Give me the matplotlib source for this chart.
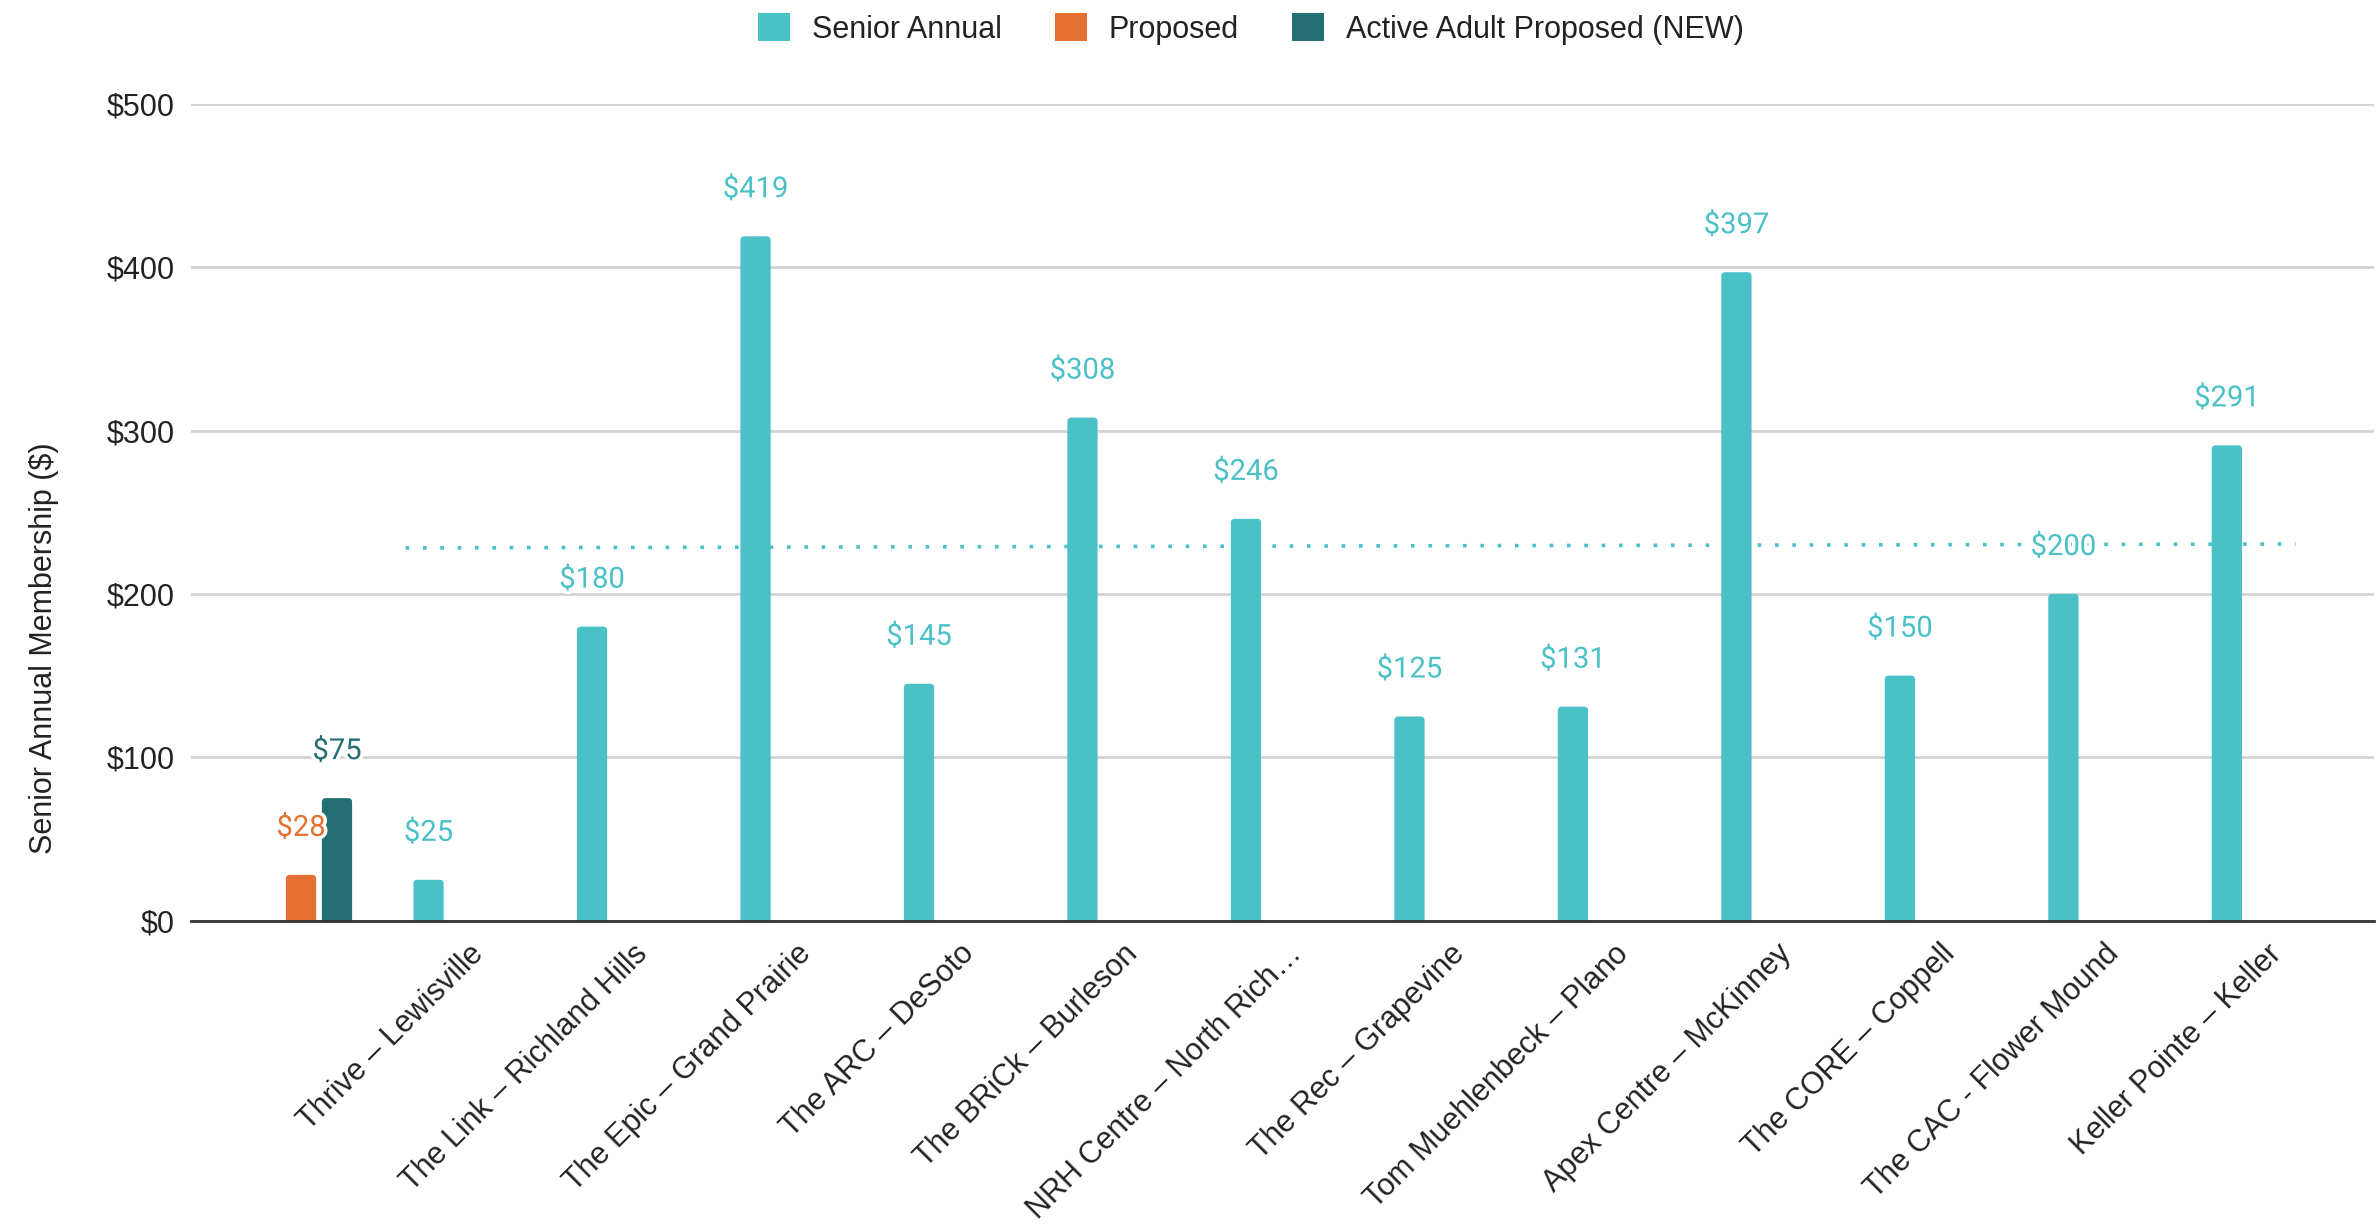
import numpy as np
import matplotlib
matplotlib.use("Agg")
import matplotlib.pyplot as plt
import matplotlib.patheffects as pe
from matplotlib.patches import FancyBboxPatch, Patch

# ---------------- data ----------------
categories = ["", "Thrive – Lewisville", "The Link – Richland Hills",
              "The Epic – Grand Prairie", "The ARC – DeSoto",
              "The BRiCk – Burleson", "NRH Centre – North Rich…",
              "The Rec – Grapevine", "Tom Muehlenbeck – Plano",
              "Apex Centre – McKinney", "The CORE – Coppell",
              "The CAC - Flower Mound", "Keller Pointe – Keller"]
senior_annual = [np.nan, 25, 180, 419, 145, 308, 246, 125, 131, 397, 150, 200, 291]
proposed = [28] + [np.nan] * 12
active_adult = [75] + [np.nan] * 12
series_names = ["Senior Annual", "Proposed", "Active Adult Proposed (NEW)"]
# trendline of Senior Annual (start / end values)
trend_values = [228.2, 230.6]
y_ticks = [0, 100, 200, 300, 400, 500]

# ---------------- style ----------------
c_senior = "#4AC0C7"
c_prop = "#E47032"
c_active = "#236F73"
colors = [c_senior, c_prop, c_active]
txt_font = ["Liberation Sans", "DejaVu Sans"]
lbl_font = ["Roboto", "DejaVu Sans"]

W, H = 2379, 1226
fig = plt.figure(figsize=(W / 100, H / 100), dpi=100)
ax_left, ax_right, ax_bot, ax_top = 191, 2374, 305.4, 1122
ax = fig.add_axes([ax_left / W, ax_bot / H, (ax_right - ax_left) / W,
                   (ax_top - ax_bot) / H])

xlim = (-0.673, 12.68)
ylim = (0, 500)
ax.set_xlim(*xlim)
ax.set_ylim(*ylim)

# pixel -> data conversions for rounding
px_x = (xlim[1] - xlim[0]) / (ax_right - ax_left)
px_y = (ylim[1] - ylim[0]) / (ax_top - ax_bot)
r_px = 4.0

x = np.arange(len(categories))
slot = 0.22
bw = 0.185
offsets = [-slot, 0.0, slot]
all_series = [senior_annual, proposed, active_adult]

for vals, off, col, name in zip(all_series, offsets, colors, series_names):
    vals = np.array(vals, dtype=float)
    b = ax.bar(x + off, vals, width=bw, color=col, zorder=3, linewidth=0)
    # rounded-top version of each bar
    for p in b.patches:
        h = p.get_height()
        if np.isnan(h):
            continue
        p.set_visible(False)
        rx = r_px * px_x
        ry = r_px * px_y
        fb = FancyBboxPatch((p.get_x(), -ry), p.get_width(), h + ry,
                            boxstyle=f"round,pad=0,rounding_size={rx}",
                            mutation_aspect=ry / rx, facecolor=col,
                            edgecolor="none", zorder=3)
        ax.add_patch(fb)
    for xi, v in zip(x + off, vals):
        if np.isnan(v):
            continue
        ax.annotate(f"${v:.0f}", xy=(xi, v), xytext=(0, 33.8),
                    textcoords="offset points", ha="center", va="center",
                    fontsize=21, family=lbl_font, color=col, zorder=5,
                    path_effects=[pe.withStroke(linewidth=5, foreground="white")])

# trendline (dotted) for Senior Annual
trend_x = [x[1] - 0.36, x[-1] + 0.20]
ax.plot(trend_x, trend_values, color=c_senior, lw=2.6,
        linestyle=(0, (1, 3.8)), zorder=2)

# axes styling
ax.set_xlim(*xlim)
ax.set_ylim(*ylim)
ax.set_yticks(y_ticks)
ax.set_yticklabels([f"${t}" for t in y_ticks], family=txt_font, fontsize=22,
                   color="#222222")
ax.tick_params(axis="y", length=0, pad=12)
ax.grid(axis="y", color="#D3D3D3", lw=2, zorder=0)
ax.set_axisbelow(True)
for s in ["top", "right", "left"]:
    ax.spines[s].set_visible(False)
ax.spines["bottom"].set_color("#333333")
ax.spines["bottom"].set_linewidth(2)
ax.spines["bottom"].set_zorder(4)

ax.set_xticks(x)
ax.set_xticklabels([""] * len(x))
ax.tick_params(axis="x", length=0)
for xi, lab in zip(x, categories):
    ax.annotate(lab, xy=(xi, 0), xycoords=("data", "axes fraction"),
                xytext=(3, -13), textcoords="offset points",
                rotation=45, rotation_mode="anchor", ha="right", va="top",
                fontsize=22, family=txt_font, color="#222222")

fig.text(44 / W, 578 / H, "Senior Annual Membership ($)", rotation=90,
         ha="center", va="center", fontsize=22, family=txt_font,
         color="#222222")

handles = [Patch(facecolor=c, edgecolor="none") for c in colors]
fig.legend(handles=handles, labels=series_names, loc="center",
           bbox_to_anchor=(1251 / W, 1 - 29 / H), ncol=3, frameon=False,
           prop={"family": txt_font, "size": 22}, handlelength=1.05,
           handleheight=1.0, handletextpad=0.72, columnspacing=1.73,
           labelcolor="#222222")

fig.savefig("out.png", dpi=100, facecolor="white")
